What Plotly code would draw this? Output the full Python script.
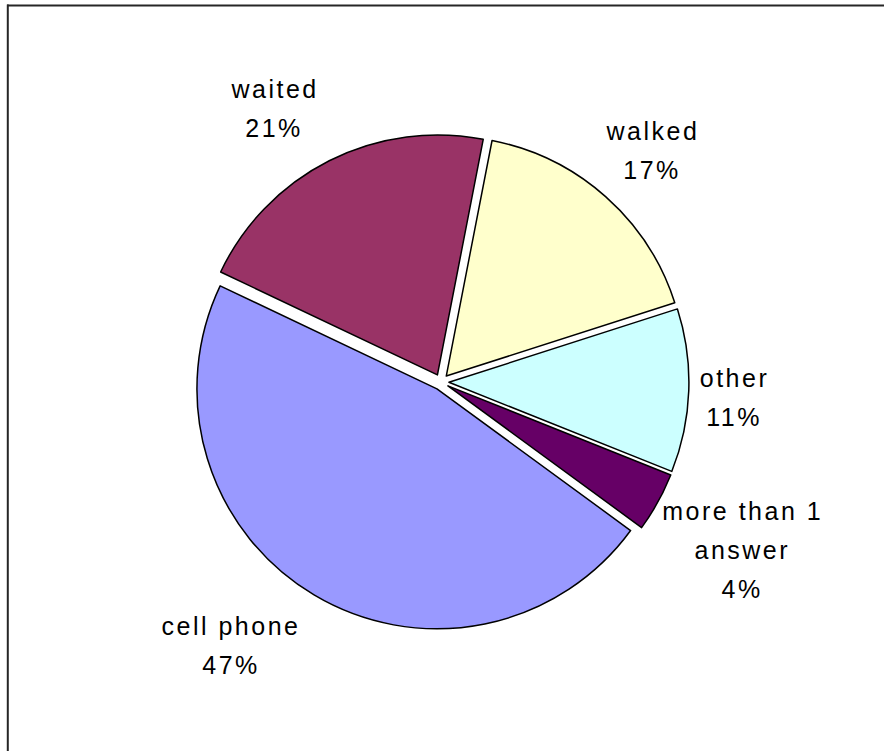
import math
import textwrap

import plotly.graph_objects as go

# Survey answers, listed clockwise from just right of 12 o'clock
categories = ["walked", "other", "more than 1 answer", "cell phone", "waited"]
shares = [17, 11, 4, 47, 21]
slice_colors = ["#FFFFCC", "#CCFFFF", "#660066", "#9999FF", "#993366"]

# Canvas and pie geometry (pixels)
FIG_W, FIG_H = 889, 751
CX, CY = 441, 382          # pie centre
RADIUS = 240
PULL = 0.033               # explode every slice slightly
ROTATION = 11              # start angle, degrees clockwise from 12 o'clock

# Label styling
FONT = dict(family="Liberation Sans, Arial, sans-serif", size=25, color="black")
LETTER_SPACING = "2.5px"
CHAR_W = 13.7              # average rendered width of one character
LINE_PITCH = 39
LABEL_RX, LABEL_RY = 265, 272   # where labels attach around the pie
LABEL_SHIFT_X = -6

half_box = RADIUS * (1 + PULL)

fig = go.Figure(
    go.Pie(
        labels=categories,
        values=shares,
        sort=False,
        direction="clockwise",
        rotation=ROTATION,
        pull=[PULL] * len(shares),
        marker=dict(colors=slice_colors, line=dict(color="black", width=1.5)),
        textinfo="none",
        hoverinfo="skip",
        showlegend=False,
        domain=dict(
            x=[(CX - half_box) / FIG_W, (CX + half_box) / FIG_W],
            y=[1 - (CY + half_box) / FIG_H, 1 - (CY - half_box) / FIG_H],
        ),
    )
)


def sign(v):
    return 1 if v > 0 else (-1 if v < 0 else 0)


# Outside labels: category name plus its share, placed at each slice's mid-angle
total = sum(shares)
angle = ROTATION
for cat, val in zip(categories, shares):
    span = 360.0 * val / total
    mid = math.radians(angle + span / 2)
    angle += span
    ux, uy = math.sin(mid), -math.cos(mid)

    lines = textwrap.wrap(cat, 11) + [f"{100 * val / total:.0f}%"]
    half_w = max(len(s) for s in lines) * CHAR_W / 2
    half_h = ((len(lines) - 1) * LINE_PITCH + FONT["size"]) / 2

    bx = CX + LABEL_SHIFT_X + LABEL_RX * ux + half_w * sign(ux)
    by = CY + LABEL_RY * uy + half_h * sign(uy) * math.sqrt(abs(uy))

    for k, line in enumerate(lines):
        ly = by + (k - (len(lines) - 1) / 2) * LINE_PITCH
        fig.add_annotation(
            x=bx / FIG_W,
            y=1 - ly / FIG_H,
            xref="paper",
            yref="paper",
            text=line,
            showarrow=False,
            xanchor="center",
            yanchor="middle",
            font=FONT,
        )

# Chart frame (top and left edges)
frame = dict(color="#262626", width=2)
fig.add_shape(type="line", xref="paper", yref="paper",
              x0=7 / FIG_W, x1=884 / FIG_W, y0=1 - 5.5 / FIG_H, y1=1 - 5.5 / FIG_H, line=frame)
fig.add_shape(type="line", xref="paper", yref="paper",
              x0=7.8 / FIG_W, x1=7.8 / FIG_W, y0=0, y1=1 - 4.5 / FIG_H, line=frame)

fig.update_layout(
    width=FIG_W,
    height=FIG_H,
    autosize=False,
    margin=dict(l=0, r=0, t=0, b=0),
    paper_bgcolor="white",
    plot_bgcolor="white",
)

spacing_js = (
    "document.querySelectorAll('.annotation-text').forEach(function(t){"
    "t.style.letterSpacing='" + LETTER_SPACING + "';});"
)

fig.write_html("out.html", post_script=spacing_js)
